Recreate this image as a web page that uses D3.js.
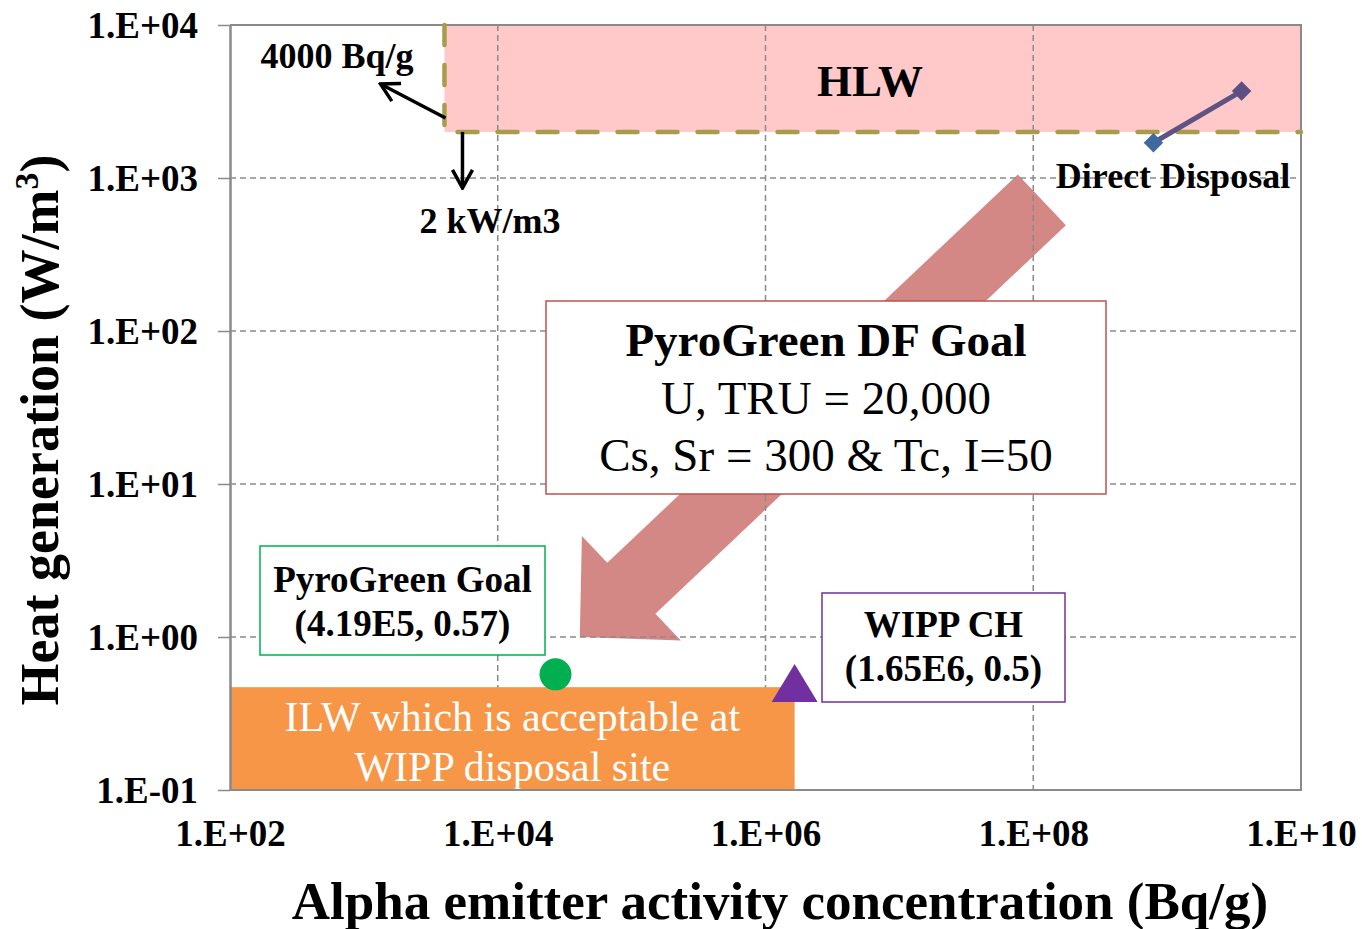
<!DOCTYPE html>
<html>
<head>
<meta charset="utf-8">
<script src="https://cdn.jsdelivr.net/npm/d3@7"></script>
<style>
body { margin: 0; background: #fff; }
text { font-family: "Liberation Serif", "Times New Roman", serif; }
</style>
</head>
<body>
<svg id="chart"></svg>
<script>
// data
var xTicks = [1e2, 1e4, 1e6, 1e8, 1e10];
var yTicks = [1e-1, 1e0, 1e1, 1e2, 1e3, 1e4];

var hlwLimitX = 4000;   // Bq/g
var hlwLimitY = 2000;   // W/m3

var directDisposal = [[7.9e8, 1700], [3.6e9, 3700]];
var pyroGreenGoal = [2.7e4, 0.57];
var wippCH = [1.65e6, 0.5];
var ilwBox = [[1e2, 0.1], [1.65e6, 0.47]];
var bigArrow = [[1.16e8, 720], [4.1e4, 1.0]];   // tail, tip

var labels = [
    { lines: ["HLW"], x: 870, y: 96, size: 45, bold: true },
    { lines: ["4000 Bq/g"], x: 337, y: 68, size: 36, bold: true },
    { lines: ["2 kW/m3"], x: 490, y: 233, size: 36, bold: true },
    { lines: ["Direct Disposal"], x: 1173, y: 188, size: 36, bold: true }
];

//configurations
var width = 1362, height = 929;
var plot_left = 230, plot_right = 1301, plot_top = 25, plot_bottom = 790;
var grid_color = "#8a8a8a";

var svg = d3.select("#chart").attr("width", width).attr("height", height).style("background", "white");

var x = d3.scaleLog().domain([1e2, 1e10]).range([plot_left, plot_right]);
var y = d3.scaleLog().domain([0.1, 1e4]).range([plot_bottom, plot_top]);

function fmt(v) {
    var e = Math.round(Math.log10(v));
    return "1.E" + (e < 0 ? "-" : "+") + String(Math.abs(e)).padStart(2, "0");
}

// HLW region
svg.append("rect")
    .attr("x", x(hlwLimitX)).attr("y", y(1e4))
    .attr("width", x(1e10) - x(hlwLimitX)).attr("height", y(hlwLimitY) - y(1e4))
    .style("fill", "#ffc9c9");

// big arrow (semi transparent, below grid)
(function () {
    var tx = x(bigArrow[0][0]), ty = y(bigArrow[0][1]);
    var hx = x(bigArrow[1][0]), hy = y(bigArrow[1][1]);
    var len = Math.hypot(tx - hx, ty - hy);
    var ux = (tx - hx) / len, uy = (ty - hy) / len;   // tip -> tail
    var px = -uy, py = ux;                              // perpendicular
    var shaft = 35, head = 72, headLen = 71;
    var bx = hx + ux * headLen, by = hy + uy * headLen;
    var pts = [
        [hx, hy],
        [bx + px * head, by + py * head],
        [bx + px * shaft, by + py * shaft],
        [tx + px * shaft, ty + py * shaft],
        [tx - px * shaft, ty - py * shaft],
        [bx - px * shaft, by - py * shaft],
        [bx - px * head, by - py * head]
    ];
    svg.append("polygon").attr("points", pts.map(p => p.join(",")).join(" "))
        .style("fill", "#c0504d").style("opacity", 0.68);
})();

// grid
var gridG = svg.append("g");
gridG.selectAll(".vg").data(xTicks.slice(1, -1)).enter().append("line")
    .attr("x1", d => x(d)).attr("x2", d => x(d)).attr("y1", plot_top).attr("y2", plot_bottom)
    .style("stroke", grid_color).style("stroke-width", 1.5).style("stroke-dasharray", "6,4");
gridG.selectAll(".hg").data(yTicks.slice(1, -1)).enter().append("line")
    .attr("x1", plot_left).attr("x2", plot_right).attr("y1", d => y(d)).attr("y2", d => y(d))
    .style("stroke", grid_color).style("stroke-width", 1.5).style("stroke-dasharray", "6,4");

// ILW box
svg.append("rect")
    .attr("x", x(ilwBox[0][0])).attr("y", y(ilwBox[1][1]))
    .attr("width", x(ilwBox[1][0]) - x(ilwBox[0][0])).attr("height", y(ilwBox[0][1]) - y(ilwBox[1][1]))
    .style("fill", "#f79646");
var ilwCx = (x(ilwBox[0][0]) + x(ilwBox[1][0])) / 2;
svg.append("text").attr("x", ilwCx).attr("y", 731).attr("text-anchor", "middle")
    .style("font-size", "42px").style("fill", "white").text("ILW which is acceptable at");
svg.append("text").attr("x", ilwCx).attr("y", 781).attr("text-anchor", "middle")
    .style("font-size", "42px").style("fill", "white").text("WIPP disposal site");

// frame
svg.append("path")
    .attr("d", `M${plot_left},${plot_top}H${plot_right}V${plot_bottom}H${plot_left}`)
    .style("fill", "none").style("stroke", grid_color).style("stroke-width", 2);

// y axis
var yAxis = svg.append("g").attr("transform", `translate(${plot_left},0)`)
    .call(d3.axisLeft(y).tickValues(yTicks).tickFormat(fmt).tickSize(12).tickSizeOuter(0).tickPadding(20));
yAxis.select(".domain").style("stroke", grid_color).style("stroke-width", 2.5);
yAxis.selectAll(".tick line").style("stroke", grid_color).style("stroke-width", 1.5);
yAxis.selectAll(".tick text").style("font-family", "Liberation Serif").style("font-size", "37px")
    .style("font-weight", "bold").style("fill", "#000").attr("dy", "0.33em");

// x axis
var xAxis = svg.append("g").attr("transform", `translate(0,${plot_bottom})`)
    .call(d3.axisBottom(x).tickValues(xTicks).tickFormat(fmt).tickSize(0).tickSizeOuter(0).tickPadding(30));
xAxis.select(".domain").style("stroke", "none");
xAxis.selectAll(".tick text").style("font-family", "Liberation Serif").style("font-size", "37px")
    .style("font-weight", "bold").style("fill", "#000");

// HLW dashed boundary
svg.append("path")
    .attr("d", `M${x(hlwLimitX)},${y(1e4)}V${y(hlwLimitY)}H${x(1e10)}`)
    .style("fill", "none").style("stroke", "#a89c4c").style("stroke-width", 4.5)
    .style("stroke-dasharray", "20,20").style("stroke-linecap", "round");

// small arrows
svg.append("defs").append("marker").attr("id", "open")
    .attr("viewBox", "0 0 26 26").attr("refX", 24).attr("refY", 13)
    .attr("markerWidth", 26).attr("markerHeight", 26).attr("markerUnits", "userSpaceOnUse")
    .attr("orient", "auto")
    .append("path").attr("d", "M6,3 L24,13 L6,23").style("fill", "none").style("stroke", "#000").style("stroke-width", 3.5);

svg.append("line")
    .attr("x1", x(hlwLimitX) + 1).attr("y1", y(hlwLimitY) - 14)
    .attr("x2", x(hlwLimitX) - 64).attr("y2", y(hlwLimitY) - 48)
    .style("stroke", "#000").style("stroke-width", 3.5).attr("marker-end", "url(#open)");
svg.append("line")
    .attr("x1", x(hlwLimitX) + 18).attr("y1", y(hlwLimitY))
    .attr("x2", x(hlwLimitX) + 18).attr("y2", y(hlwLimitY) + 56)
    .style("stroke", "#000").style("stroke-width", 3.5).attr("marker-end", "url(#open)");

// direct disposal series
svg.append("path").datum(directDisposal)
    .attr("d", d3.line().x(d => x(d[0])).y(d => y(d[1])))
    .style("fill", "none").style("stroke", "#5f5384").style("stroke-width", 5);
svg.selectAll(".dd").data(directDisposal).enter().append("path")
    .attr("transform", d => `translate(${x(d[0])},${y(d[1])}) rotate(45)`)
    .attr("d", d3.symbol().type(d3.symbolSquare).size(190))
    .style("fill", (d, i) => i == 0 ? "#3f6aa0" : "#5e4f82");

// pyrogreen goal
svg.append("circle").attr("cx", x(pyroGreenGoal[0])).attr("cy", y(pyroGreenGoal[1])).attr("r", 16)
    .style("fill", "#00b050");

// WIPP CH triangle (centred on bbox)
(function () {
    var cx = x(wippCH[0]), cy = y(wippCH[1]);
    var w = 46, h = 38;
    svg.append("polygon")
        .attr("points", `${cx},${cy - h / 2} ${cx + w / 2},${cy + h / 2} ${cx - w / 2},${cy + h / 2}`)
        .style("fill", "#7030a0");
})();

// callout boxes
function box(x0, y0, w, h, stroke, lines) {
    svg.append("rect").attr("x", x0).attr("y", y0).attr("width", w).attr("height", h)
        .style("fill", "white").style("stroke", stroke).style("stroke-width", 1.5);
    lines.forEach(l => {
        svg.append("text").attr("x", x0 + w / 2).attr("y", l.y).attr("text-anchor", "middle")
            .style("font-size", l.size + "px").style("font-weight", l.bold ? "bold" : "normal")
            .text(l.t);
    });
}

box(546, 301, 560, 193, "#c0504d", [
    { t: "PyroGreen DF Goal", y: 356, size: 47, bold: true },
    { t: "U, TRU = 20,000", y: 414, size: 47, bold: false },
    { t: "Cs, Sr = 300 & Tc, I=50", y: 471, size: 47, bold: false }
]);
box(260, 546, 285, 109, "#00b050", [
    { t: "PyroGreen Goal", y: 592, size: 37, bold: true },
    { t: "(4.19E5, 0.57)", y: 636, size: 37, bold: true }
]);
box(822, 593, 243, 109, "#7030a0", [
    { t: "WIPP CH", y: 637, size: 37, bold: true },
    { t: "(1.65E6, 0.5)", y: 681, size: 37, bold: true }
]);

// annotations
labels.forEach(l => {
    svg.append("text").attr("x", l.x).attr("y", l.y).attr("text-anchor", "middle")
        .style("font-size", l.size + "px").style("font-weight", l.bold ? "bold" : "normal")
        .text(l.lines[0]);
});

// axis titles
svg.append("text").attr("x", 780).attr("y", 919).attr("text-anchor", "middle")
    .style("font-size", "53px").style("font-weight", "bold")
    .text("Alpha emitter activity concentration (Bq/g)");

var yt = svg.append("text").attr("transform", "translate(58,430) rotate(-90)").attr("text-anchor", "middle")
    .style("font-size", "54px").style("font-weight", "bold");
yt.append("tspan").text("Heat generation (W/m");
yt.append("tspan").attr("dy", -20).style("font-size", "34px").text("3");
yt.append("tspan").attr("dy", 20).text(")");
</script>
</body>
</html>
